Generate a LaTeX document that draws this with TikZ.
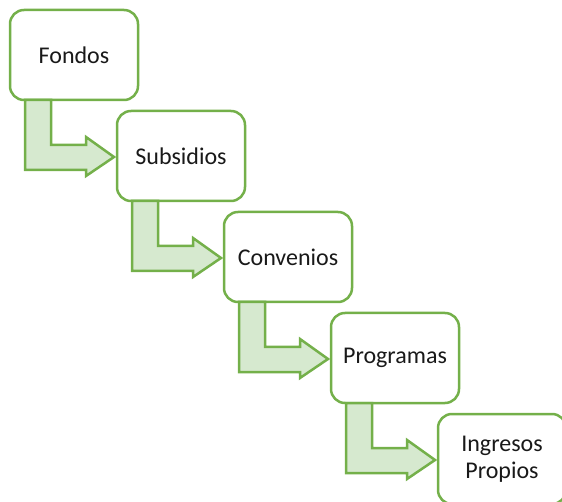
\documentclass[tikz,border=0pt]{standalone}
\usepackage{fontspec}
\setmainfont{Carlito}
\usetikzlibrary{calc}

\definecolor{boxgreen}{HTML}{74B04A}
\definecolor{flowfill}{HTML}{D6E9CF}

\begin{document}
\begin{tikzpicture}[
    x=1pt, y=-1pt,
    box/.style={rectangle, rounded corners=14pt, draw=boxgreen, line width=2.5pt,
        fill=white, minimum width=128pt, minimum height=90pt, outer sep=0pt,
        align=center, text=black!90, font=\fontsize{24}{27}\selectfont},
    flow/.style={draw=boxgreen, fill=flowfill, line width=2.5pt, line join=miter}
]
    \useasboundingbox (0,0) rectangle (562,502);
    \clip (0,0) rectangle (562,502);
    \node[box] (fondos) at (74,55) {Fondos};
    \node[box] (subsidios) at (181,156) {Subsidios};
    \node[box] (convenios) at (288,257) {Convenios};
    \node[box] (programas) at (395,358) {Programas};
    \node[box] (ingresos) at (502,459) {Ingresos\\Propios};
    % bent arrows between the steps
    \foreach \a/\b in {fondos/subsidios, subsidios/convenios,
        convenios/programas, programas/ingresos}
        \draw[flow] ($(\a.south west)+(15,0)$) -- ++(0,70) -- ++(61,0)
            -- ++(0,6) -- ($(\b.west)+(-3,1)$) -- ++(-28,-20) -- ++(0,8)
            -- ++(-35,0) -- ++(0,-45) -- cycle;
\end{tikzpicture}
\end{document}
